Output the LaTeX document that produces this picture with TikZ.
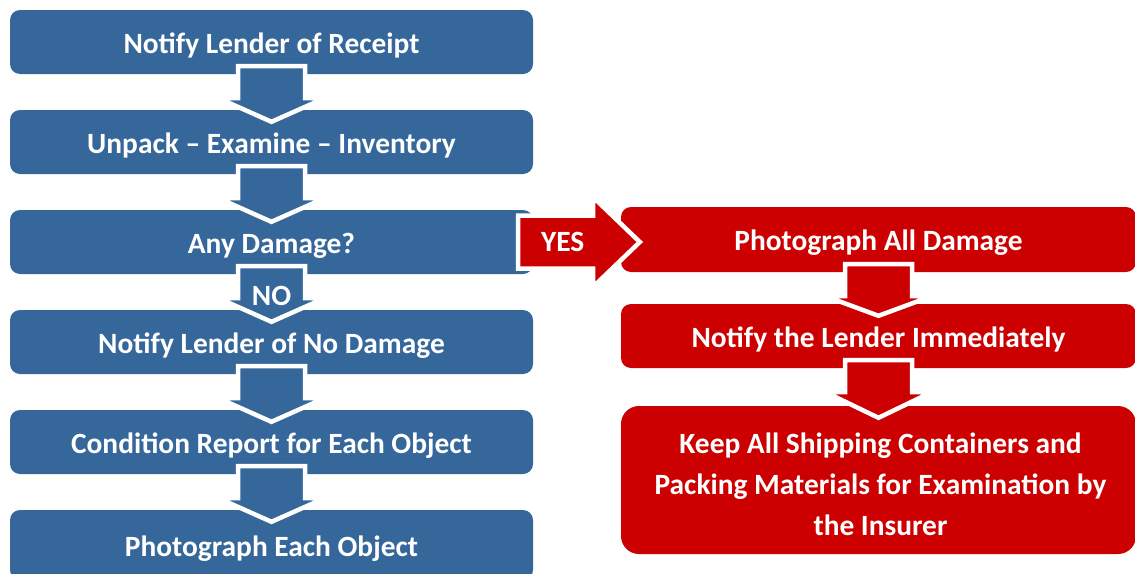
\documentclass[tikz,border=0pt]{standalone}
\usepackage{fontspec}
\setmainfont{Carlito}
\usetikzlibrary{calc}
\definecolor{myblue}{RGB}{53,103,154}
\definecolor{myred}{RGB}{204,0,0}
\tikzset{
  boxbase/.style={text=white, inner sep=0pt, align=center,
    font=\fontsize{29.4}{41}\selectfont\bfseries},
  oneline/.style={text height=22pt, text depth=0pt},
  bluebox/.style={boxbase, oneline, fill=myblue, rounded corners=10pt,
    minimum width=523pt, minimum height=64pt},
  redbox/.style={boxbase, oneline, fill=myred, rounded corners=10pt,
    minimum width=515pt, minimum height=64pt},
  bigredbox/.style={fill=myred, rounded corners=18pt, inner sep=0pt,
    minimum width=515pt, minimum height=148pt},
  blockarrow/.style={draw=white, line width=4.5pt, line join=miter, miter limit=3},
  lbl/.style={text=white, inner sep=0pt, font=\fontsize{29.4}{35}\selectfont\bfseries}
}
\newcommand\downblock[3]{%
  \path[blockarrow, fill=#3] let \p1=(#1.south), \p2=(#2.north) in
    (\x1-33.5pt,\y1+8pt) -- (\x1+33.5pt,\y1+8pt) -- (\x1+33.5pt,\y1-24pt)
    -- (\x1+53pt,\y1-24pt) -- (\x1,\y2-12pt) -- (\x1-53pt,\y1-24pt)
    -- (\x1-33.5pt,\y1-24pt) -- cycle;}
\begin{document}
\begin{tikzpicture}[x=1pt,y=1pt]
\useasboundingbox (0,0) rectangle (1135,-573);
\clip (0,0) rectangle (1135,-573);
% left column
\node[bluebox] (b1) at (271.5,-42) {Notify Lender of Receipt};
\node[bluebox] (b2) at (271.5,-142) {Unpack -- Examine -- Inventory};
\node[bluebox] (b3) at (271.5,-242) {Any Damage?};
\node[bluebox] (b4) at (271.5,-342) {Notify Lender of No Damage};
\node[bluebox] (b5) at (271.5,-442) {Condition Report for Each Object};
\node[bluebox, minimum height=70pt] (b6) at (271.5,-545) {Photograph Each Object};
% right column
\node[redbox, minimum height=65pt] (r1) at (878.5,-239.5) {Photograph All Damage};
\node[redbox] (r2) at (878.5,-336) {Notify the Lender Immediately};
\node[bigredbox] (r3) at (878.5,-480) {};
\node[boxbase] (r3text) at ($(r3.center)+(2pt,-4pt)$)
  {Keep All Shipping Containers and\\Packing Materials for Examination by\\the Insurer};
% down arrows
\downblock{b1}{b2}{myblue}
\downblock{b2}{b3}{myblue}
\downblock{b3}{b4}{myblue}
\downblock{b4}{b5}{myblue}
\downblock{b5}{b6}{myblue}
\downblock{r1}{r2}{myred}
\downblock{r2}{r3}{myred}
% yes arrow
\path[blockarrow, fill=myred] let \p1=(b3.east), \p2=(r1.west) in
  (\x1-15pt,\y1+26.5pt) -- (593,\y1+26.5pt) -- (593,\y1+45pt)
  -- (\x2+19pt,\y1) -- (593,\y1-45pt) -- (593,\y1-26.5pt)
  -- (\x1-15pt,\y1-26.5pt) -- cycle;
\node[lbl] (yes) at ($(b3.east)+(29.5pt,0)$) {YES};
\node[lbl] (no) at ($(b3.south)+(0,-22pt)$) {NO};
\end{tikzpicture}
\end{document}
